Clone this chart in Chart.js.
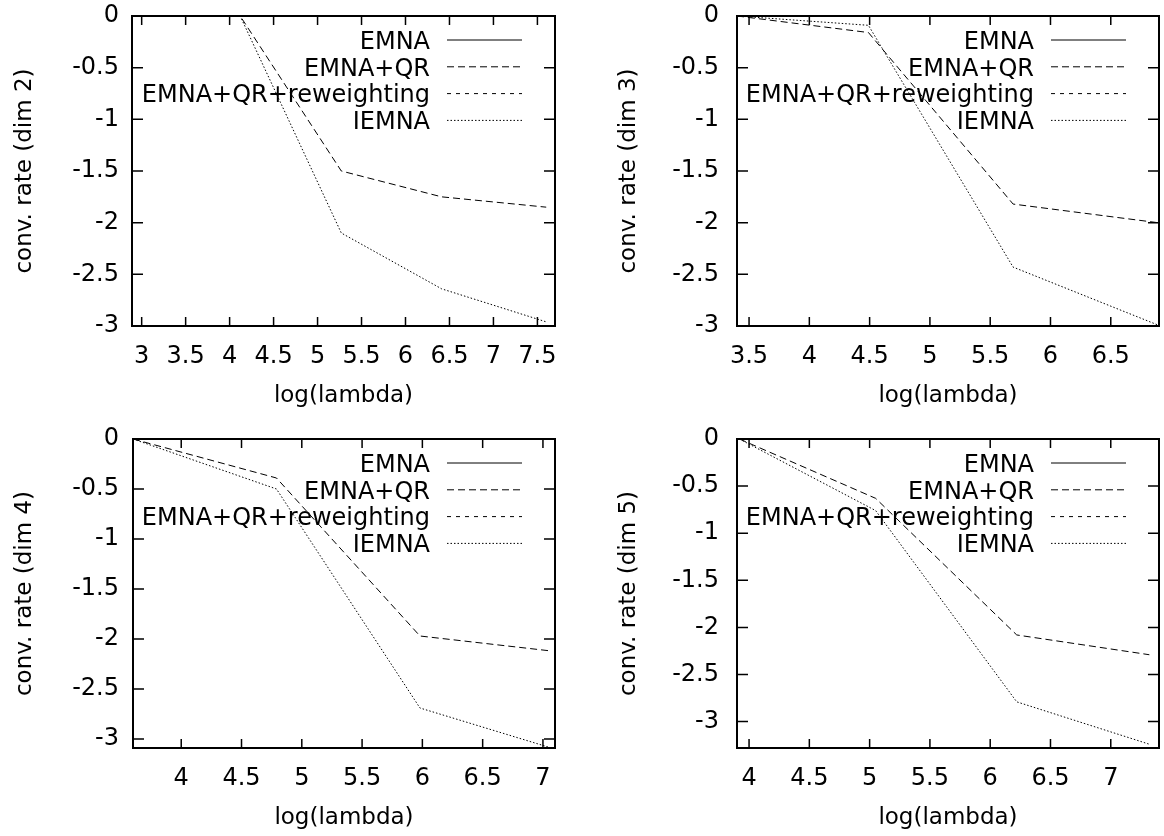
<!DOCTYPE html>
<html lang="en">
<head>
  <meta charset="UTF-8" />
  <title>Convergence rate vs log(lambda)</title>
  <script src="https://cdn.jsdelivr.net/npm/chart.js"></script>
  <style>
    body {
      margin: 0;
      background: #fff;
    }

    .sheet {
      position: relative;
      width: 1164px;
      height: 836px;
    }

    .panel {
      position: absolute;
      width: 582px;
      height: 418px;
    }

    canvas {
      display: block;
    }
  </style>
</head>
<body>

  <div class="sheet">
    <div class="panel" style="left:0;top:0"><canvas id="dim2" width="582" height="418"></canvas></div>
    <div class="panel" style="left:582px;top:0"><canvas id="dim3" width="582" height="418"></canvas></div>
    <div class="panel" style="left:0;top:418px"><canvas id="dim4" width="582" height="418"></canvas></div>
    <div class="panel" style="left:582px;top:418px"><canvas id="dim5" width="582" height="418"></canvas></div>
  </div>

  <script>
    // Data
    const seriesNames = ['EMNA', 'EMNA+QR', 'EMNA+QR+reweighting', 'IEMNA'];

    const dim2Lambda = [3.28, 4.12, 5.27, 6.41, 7.60];
    const dim2Emna   = [0, 0, 0, 0, 0];
    const dim2Qr     = [0, 0, -1.50, -1.75, -1.85];
    const dim2Rew    = [0, 0, 0, 0, 0];
    const dim2Iemna  = [0, 0, -2.10, -2.64, -2.96];

    const dim3Lambda = [3.40, 4.49, 5.69, 6.89];
    const dim3Emna   = [0, 0, 0, 0];
    const dim3Qr     = [0, -0.16, -1.82, -2.00];
    const dim3Rew    = [0, 0, 0, 0];
    const dim3Iemna  = [0, -0.09, -2.43, -2.99];

    const dim4Lambda = [3.60, 4.79, 5.98, 7.07];
    const dim4Emna   = [0, 0, 0, 0];
    const dim4Qr     = [0, -0.39, -1.97, -2.12];
    const dim4Rew    = [0, 0, 0, 0];
    const dim4Iemna  = [0, -0.50, -2.69, -3.09];

    const dim5Lambda = [3.92, 5.05, 6.22, 7.32];
    const dim5Emna   = [0, 0, 0, 0];
    const dim5Qr     = [0, -0.63, -2.08, -2.29];
    const dim5Rew    = [0, 0, 0, 0];
    const dim5Iemna  = [0, -0.76, -2.79, -3.24];

    // Tick values
    const yTicks     = [0, -0.5, -1, -1.5, -2, -2.5, -3];
    const dim2XTicks = [3, 3.5, 4, 4.5, 5, 5.5, 6, 6.5, 7, 7.5];
    const dim3XTicks = [3.5, 4, 4.5, 5, 5.5, 6, 6.5];
    const dim4XTicks = [4, 4.5, 5, 5.5, 6, 6.5, 7];
    const dim5XTicks = [4, 4.5, 5, 5.5, 6, 6.5, 7];

    const FONT = '"DejaVu Sans", sans-serif';
    Chart.defaults.font.family = FONT;
    Chart.defaults.font.size = 24;
    Chart.defaults.color = '#000';

    const lineStyles = [
      { dash: [] },
      { dash: [7, 4] },
      { dash: [4, 5] },
      { dash: [1.5, 2] }
    ];

    // gnuplot-like frame with inward mirrored ticks
    const framePlugin = {
      id: 'frame',
      afterDraw(chart) {
        const { ctx, chartArea: a, scales: { x, y } } = chart;
        ctx.save();
        ctx.strokeStyle = '#000';
        ctx.lineWidth = 1.5;
        ctx.beginPath();
        x.ticks.forEach(t => {
          const px = x.getPixelForValue(t.value);
          ctx.moveTo(px, a.bottom); ctx.lineTo(px, a.bottom - 9);
          ctx.moveTo(px, a.top); ctx.lineTo(px, a.top + 9);
        });
        y.ticks.forEach(t => {
          const py = y.getPixelForValue(t.value);
          ctx.moveTo(a.left, py); ctx.lineTo(a.left + 11, py);
          ctx.moveTo(a.right, py); ctx.lineTo(a.right - 11, py);
        });
        ctx.stroke();
        ctx.lineWidth = 2;
        ctx.strokeRect(a.left, a.top, a.right - a.left, a.bottom - a.top);
        ctx.restore();
      }
    };

    // key in the top right corner: label right aligned, sample line after it
    const keyPlugin = {
      id: 'key',
      afterDraw(chart) {
        const { ctx, chartArea: a } = chart;
        ctx.save();
        ctx.font = '24px ' + FONT;
        ctx.textAlign = 'right';
        ctx.textBaseline = 'alphabetic';
        chart.data.datasets.forEach((ds, i) => {
          const rowY = a.top + 24 + i * 26.8;
          ctx.fillStyle = '#000';
          ctx.fillText(ds.label, a.right - 125, rowY + 8.7);
          ctx.strokeStyle = '#000';
          ctx.lineWidth = 1;
          ctx.setLineDash(ds.borderDash);
          ctx.beginPath();
          ctx.moveTo(a.right - 108, rowY);
          ctx.lineTo(a.right - 33, rowY);
          ctx.stroke();
        });
        ctx.restore();
      }
    };

    function points(xs, ys) {
      return xs.map((x, i) => ({ x: x, y: ys[i] }));
    }

    function makePanel(p) {
      const series = [p.emna, p.qr, p.rew, p.iemna];
      new Chart(document.getElementById(p.id), {
        type: 'scatter',
        data: {
          datasets: series.map((ys, i) => ({
            label: seriesNames[i],
            data: points(p.lambda, ys),
            showLine: true,
            borderColor: '#000',
            borderWidth: 1,
            borderDash: lineStyles[i].dash,
            pointRadius: 0,
            fill: false
          }))
        },
        options: {
          responsive: false,
          animation: false,
          events: [],
          layout: { padding: { left: 0, top: p.top, right: p.right, bottom: 0 } },
          plugins: {
            legend: { display: false },
            tooltip: { enabled: false }
          },
          scales: {
            x: {
              type: 'linear',
              min: p.xMin,
              max: p.xMax,
              grid: { display: false, drawTicks: false },
              border: { display: false },
              ticks: { padding: 16, callback: v => String(v) },
              afterBuildTicks: s => { s.ticks = p.xTicks.map(v => ({ value: v })); },
              afterFit: s => {
                s.height = p.xHeight;
                s.paddingLeft = 0; s.paddingRight = 0;
              },
              title: {
                display: true,
                text: 'log(lambda)',
                font: { size: 23, lineHeight: 1 },
                padding: { top: 0, bottom: p.xTitlePad }
              }
            },
            y: {
              type: 'linear',
              min: p.yMin,
              max: 0,
              grid: { display: false, drawTicks: false },
              border: { display: false },
              ticks: { padding: p.tickPad, callback: v => String(v) },
              afterBuildTicks: s => { s.ticks = yTicks.map(v => ({ value: v })); },
              afterFit: s => {
                s.width = p.left;
                s.paddingTop = 0; s.paddingBottom = 0;
              },
              title: {
                display: true,
                text: p.yTitle,
                font: { size: 23, lineHeight: 1 },
                padding: { top: p.yTitlePad, bottom: 0 }
              }
            }
          }
        },
        plugins: [framePlugin, keyPlugin]
      });
    }

    makePanel({
      id: 'dim2', yTitle: 'conv. rate (dim 2)',
      lambda: dim2Lambda, emna: dim2Emna, qr: dim2Qr, rew: dim2Rew, iemna: dim2Iemna,
      xMin: 2.89, xMax: 7.70, yMin: -3, xTicks: dim2XTicks,
      left: 132, right: 27, top: 16, xHeight: 92, tickPad: 13, yTitlePad: 14, xTitlePad: 10
    });

    makePanel({
      id: 'dim3', yTitle: 'conv. rate (dim 3)',
      lambda: dim3Lambda, emna: dim3Emna, qr: dim3Qr, rew: dim3Rew, iemna: dim3Iemna,
      xMin: 3.40, xMax: 6.90, yMin: -3, xTicks: dim3XTicks,
      left: 155, right: 5, top: 16, xHeight: 92, tickPad: 18, yTitlePad: 36, xTitlePad: 10
    });

    makePanel({
      id: 'dim4', yTitle: 'conv. rate (dim 4)',
      lambda: dim4Lambda, emna: dim4Emna, qr: dim4Qr, rew: dim4Rew, iemna: dim4Iemna,
      xMin: 3.60, xMax: 7.10, yMin: -3.09, xTicks: dim4XTicks,
      left: 133, right: 27, top: 21, xHeight: 88, tickPad: 14, yTitlePad: 14, xTitlePad: 6
    });

    makePanel({
      id: 'dim5', yTitle: 'conv. rate (dim 5)',
      lambda: dim5Lambda, emna: dim5Emna, qr: dim5Qr, rew: dim5Rew, iemna: dim5Iemna,
      xMin: 3.90, xMax: 7.40, yMin: -3.28, xTicks: dim5XTicks,
      left: 155, right: 5, top: 21, xHeight: 88, tickPad: 18, yTitlePad: 36, xTitlePad: 6
    });
  </script>
</body>
</html>
